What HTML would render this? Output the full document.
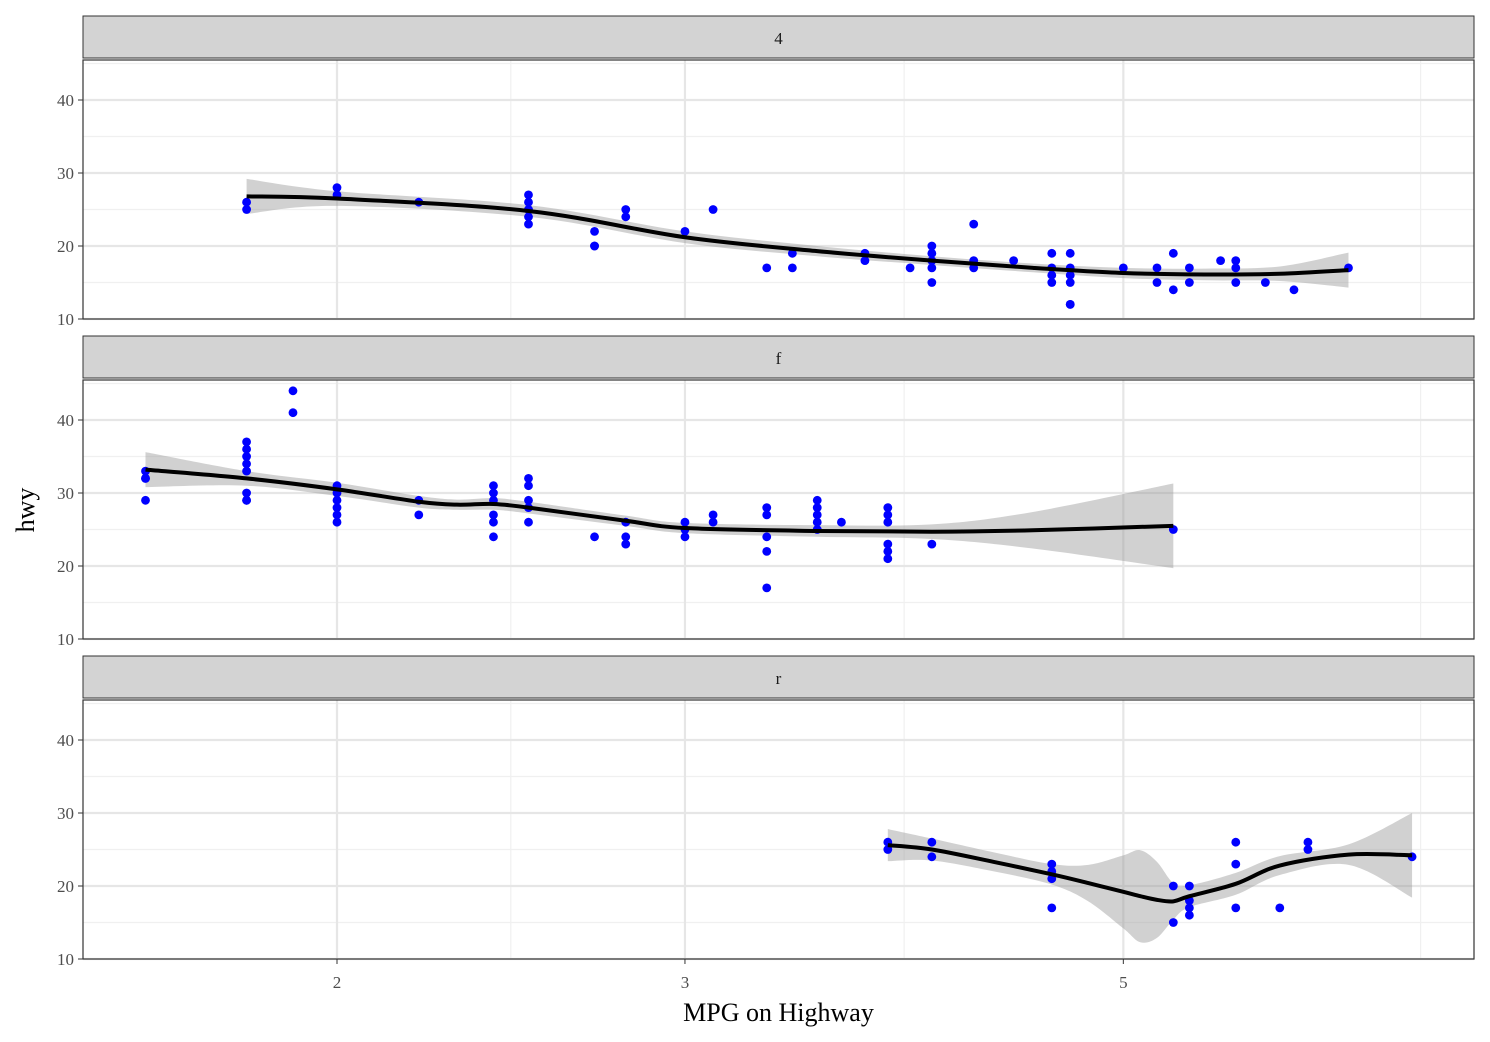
<!DOCTYPE html>
<html><head><meta charset="utf-8">
<style>
html,body{margin:0;padding:0;background:#fff;}
svg{display:block;font-family:"Liberation Serif",serif;}
</style></head>
<body>
<svg id="chart" width="1490" height="1042" viewBox="0 0 1490 1042"></svg>
<script>
// ---- data ----
const facetLabels = ["4","f","r"];
const pts4 = [[1.8,26],[1.8,25],[2.0,28],[2.0,27],[2.2,26],[2.5,27],[2.5,26],[2.5,25],[2.5,24],[2.5,23],
 [2.7,22],[2.7,20],[2.7,20],[2.8,25],[2.8,24],[3.0,22],[3.1,25],[3.3,17],[3.4,19],[3.4,17],[3.7,19],[3.7,18],
 [3.9,17],[4.0,20],[4.0,19],[4.0,18],[4.0,17],[4.0,15],[4.2,23],[4.2,18],[4.2,17],[4.4,18],[4.6,19],[4.6,17],
 [4.6,16],[4.6,15],[4.7,19],[4.7,17],[4.7,16],[4.7,15],[4.7,12],[4.7,12],[5.0,17],[5.2,17],[5.2,15],[5.3,19],
 [5.3,14],[5.4,17],[5.4,15],[5.6,18],[5.7,18],[5.7,17],[5.7,15],[5.9,15],[6.1,14],[6.5,17]];
const ptsF = [[1.6,33],[1.6,32],[1.6,32],[1.6,29],[1.8,37],[1.8,36],[1.8,35],[1.8,34],[1.8,33],[1.8,30],[1.8,29],[1.8,29],
 [1.9,44],[1.9,41],[2.0,31],[2.0,30],[2.0,29],[2.0,28],[2.0,27],[2.0,26],[2.2,29],[2.2,27],
 [2.4,31],[2.4,30],[2.4,29],[2.4,27],[2.4,26],[2.4,24],[2.5,32],[2.5,31],[2.5,29],[2.5,28],[2.5,26],
 [2.7,24],[2.8,26],[2.8,24],[2.8,23],[3.0,26],[3.0,25],[3.0,24],[3.1,27],[3.1,26],
 [3.3,28],[3.3,27],[3.3,24],[3.3,22],[3.3,17],[3.5,29],[3.5,28],[3.5,27],[3.5,26],[3.5,25],[3.6,26],
 [3.8,28],[3.8,27],[3.8,26],[3.8,23],[3.8,22],[3.8,21],[4.0,23],[5.3,25]];
const ptsR = [[3.8,26],[3.8,25],[4.0,26],[4.0,24],[4.6,23],[4.6,22],[4.6,21],[4.6,17],[5.3,20],[5.3,15],
 [5.4,20],[5.4,18],[5.4,17],[5.4,16],[5.7,26],[5.7,23],[5.7,17],[6.0,17],[6.2,26],[6.2,25],[7.0,24]];
// smooth fits: x, fit, half-width of band
const fitX4 = [1.8,2.0,2.5,3.0,3.5,4.0,4.5,5.0,5.5,6.0,6.5];
const fitY4 = [26.8,26.5,24.8,21.2,19.3,18.0,17.0,16.3,16.1,16.2,16.7];
const fitSe4 = [2.4,1.0,0.8,0.8,0.7,0.6,0.6,0.7,0.8,1.0,2.4];
const fitXF = [1.6,1.8,2.0,2.2,2.3,2.4,2.5,2.8,3.0,3.5,4.0,4.5,5.3];
const fitYF = [33.2,32.0,30.5,28.8,28.4,28.5,28.0,26.2,25.2,24.8,24.7,24.9,25.5];
const fitSeF = [2.4,1.0,0.9,0.8,0.7,0.8,0.8,0.7,0.7,0.8,1.0,2.5,5.8];
const fitXR = [3.8,4.0,4.3,4.6,4.8,5.0,5.1,5.2,5.3,5.4,5.7,6.0,6.5,7.0];
const fitYR = [25.6,25.0,23.3,21.6,20.4,19.2,18.6,18.1,17.9,18.6,20.3,22.8,24.3,24.2];
const fitSeR = [2.2,1.5,1.3,1.4,2.5,5.0,6.3,5.2,2.5,1.5,1.5,1.3,1.4,5.8];
const xTicks = [2,3,5];
const xMinor = [2.449,3.873,7.07];
const yTicks = [10,20,30,40];
const yMinor = [15,25,35,45];

// ---- layout ----
const svg = document.getElementById('chart');
const NS = "http://www.w3.org/2000/svg";
const PL = 83, PR = 1474;
const X0 = 337, PXDEC = 1976;
function xs(v){ return X0 + (Math.log10(v) - Math.log10(2)) * PXDEC; }
const panels = [
 {strip:16, top:60, bottom:319, pts:pts4, fx:fitX4, fy:fitY4, fs:fitSe4},
 {strip:336, top:380, bottom:639, pts:ptsF, fx:fitXF, fy:fitYF, fs:fitSeF},
 {strip:656, top:700, bottom:959, pts:ptsR, fx:fitXR, fy:fitYR, fs:fitSeR}
];
function mk(tag, attrs, parent){
  const e = document.createElementNS(NS, tag);
  for (const k in attrs) e.setAttribute(k, attrs[k]);
  (parent||svg).appendChild(e); return e;
}
// catmull-rom spline through pixel points; returns path segments (without initial M)
function spline(P){
  let d = '';
  for (let i = 0; i < P.length - 1; i++) {
    const p0 = P[i-1] || P[i], p1 = P[i], p2 = P[i+1], p3 = P[i+2] || P[i+1];
    const c1 = [p1[0] + (p2[0]-p0[0])/6, p1[1] + (p2[1]-p0[1])/6];
    const c2 = [p2[0] - (p3[0]-p1[0])/6, p2[1] - (p3[1]-p1[1])/6];
    d += 'C' + c1[0] + ',' + c1[1] + ' ' + c2[0] + ',' + c2[1] + ' ' + p2[0] + ',' + p2[1];
  }
  return d;
}
panels.forEach((p, i) => {
  const ys = v => p.bottom - (v - 10) * 7.3;
  const g = mk('g', {});
  
  
  const st = mk('rect', {x:PL, y:p.strip, width:PR-PL, height:42, fill:'#d3d3d3', stroke:'#333', 'stroke-width':1}, g);
  
  
  const stt = mk('text', {x:(PL+PR)/2, y:p.strip+28, 'text-anchor':'middle', 'font-size':17, fill:'#1a1a1a'}, g);
  stt.textContent = facetLabels[i];
  
  
  mk('rect', {x:PL, y:p.top, width:PR-PL, height:p.bottom-p.top, fill:'#fff'}, g);
  yMinor.forEach(v => { const y = ys(v); if (y > p.top) mk('line', {x1:PL, x2:PR, y1:y, y2:y, stroke:'#f0f0f0', 'stroke-width':1.2}, g); });
  xMinor.forEach(v => mk('line', {x1:xs(v), x2:xs(v), y1:p.top, y2:p.bottom, stroke:'#f0f0f0', 'stroke-width':1.2}, g));
  yTicks.forEach(v => mk('line', {x1:PL, x2:PR, y1:ys(v), y2:ys(v), stroke:'#e6e6e6', 'stroke-width':2.2}, g));
  xTicks.forEach(v => mk('line', {x1:xs(v), x2:xs(v), y1:p.top, y2:p.bottom, stroke:'#e6e6e6', 'stroke-width':2.2}, g));
  // band
  const up = p.fx.map((x, j) => [xs(x), ys(p.fy[j] + p.fs[j])]);
  const lo = p.fx.map((x, j) => [xs(x), ys(p.fy[j] - p.fs[j])]).reverse();
  const d = 'M' + up[0][0] + ',' + up[0][1] + spline(up) + 'L' + lo[0][0] + ',' + lo[0][1] + spline(lo) + 'Z';
  const band = mk('path', {d:d, fill:'#999', 'fill-opacity':0.45, stroke:'none'}, g);
  
  
  p.pts.forEach(pt => {
    const c = mk('circle', {cx:xs(pt[0]), cy:ys(pt[1]), r:4.4, fill:'#0000ff'}, g);
    
    
  });
  const lp = p.fx.map((x, j) => [xs(x), ys(p.fy[j])]);
  const ln = mk('path', {d:'M' + lp[0][0] + ',' + lp[0][1] + spline(lp), fill:'none', stroke:'#000', 'stroke-width':4, 'stroke-linejoin':'round'}, g);
  
  
  mk('rect', {x:PL, y:p.top, width:PR-PL, height:p.bottom-p.top, fill:'none', stroke:'#333', 'stroke-width':1.2}, g);
  yTicks.forEach(v => {
    mk('line', {x1:PL-5, x2:PL, y1:ys(v), y2:ys(v), stroke:'#333', 'stroke-width':1}, g);
    const t = mk('text', {x:PL-9, y:ys(v)+6, 'text-anchor':'end', 'font-size':17, fill:'#4d4d4d'}, g);
    t.textContent = v;
    
    
  });
});
xTicks.forEach(v => {
  mk('line', {x1:xs(v), x2:xs(v), y1:959, y2:964, stroke:'#333', 'stroke-width':1});
  const t = mk('text', {x:xs(v), y:988, 'text-anchor':'middle', 'font-size':17, fill:'#4d4d4d'});
  t.textContent = v;
  
  
});
const xt = mk('text', {x:(PL+PR)/2, y:1021, 'text-anchor':'middle', 'font-size':26, fill:'#000'});
xt.textContent = 'MPG on Highway';


const yt = mk('text', {x:0, y:0, 'text-anchor':'middle', 'font-size':26, fill:'#000', transform:'translate(34,510) rotate(-90)'});
yt.textContent = 'hwy';


</script>
</body></html>
